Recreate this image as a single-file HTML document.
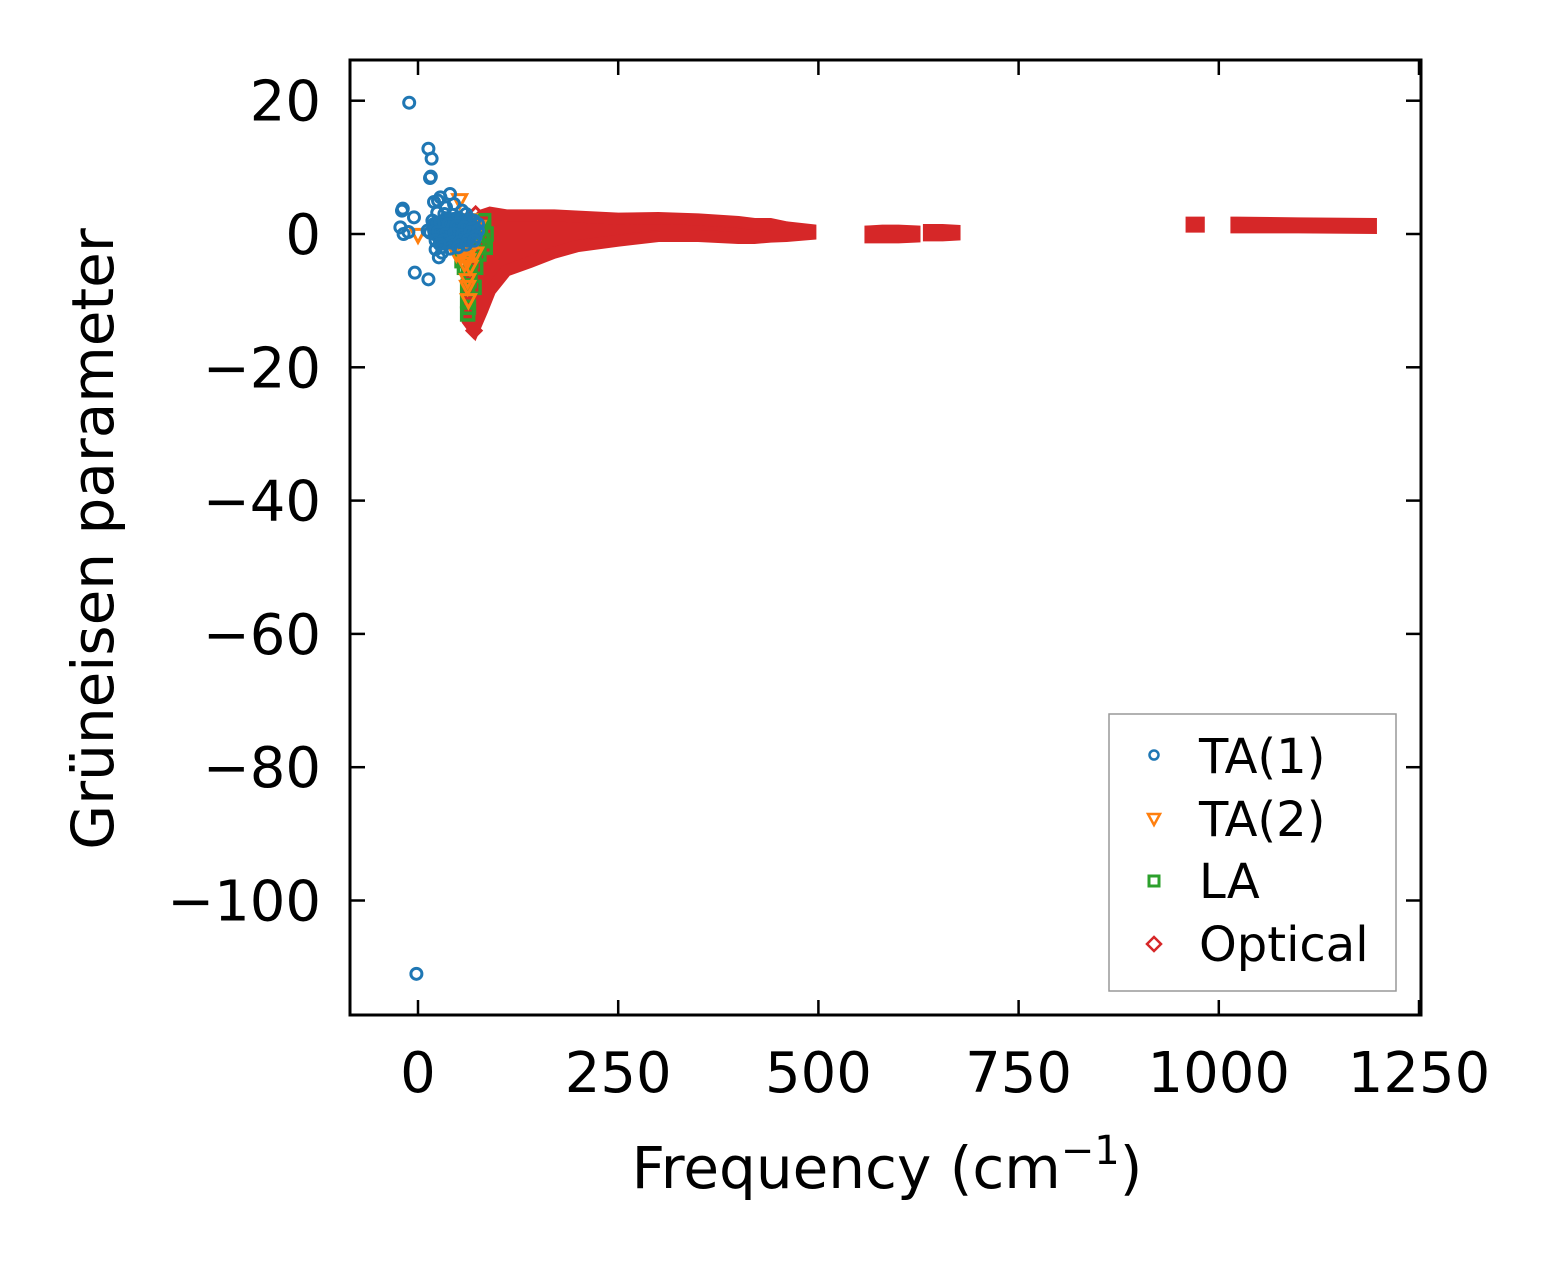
<!DOCTYPE html>
<html><head><meta charset="utf-8"><style>
html,body{margin:0;padding:0;background:#fff;}
svg{display:block;font-family:"DejaVu Sans","Liberation Sans",sans-serif;}
</style></head><body>
<svg id="chart" width="1552" height="1264" viewBox="0 0 1552 1264"></svg>
<script>
// ---- data ----
const xTicks = [0,250,500,750,1000,1250];
const yTicks = [20,0,-20,-40,-60,-80,-100];
// TA(1) points
const ta1Freq = [-11,-2,13,17,15,16,-20,-19,-5,-22,-18,-12,-4,13,40,25,20,28,26,22,30,12,18,35,45,55,60,70,24,33,50,65,75,20,28,38,48,58,68,15,25,35,45,55,65,75,22,32,42,52,62,72,30,40,50,60,70,27];
const ta1Gam  = [19.7,-111,12.8,11.3,8.4,8.6,3.5,3.8,2.5,1,0,0.3,-5.8,-6.8,6,5,4.8,5.5,-3.5,-2.3,-2.8,0.5,2,4,4.5,3.5,3,2,3.2,3,2.5,2.2,1.5,1.5,1.8,1.5,1.2,1,0.8,0.2,0.3,0,0,-0.2,0.2,0.5,-1,-1,-1.3,-1.2,-1,-0.4,-2,-2.2,-2,-1.6,-1,-1.5];
// TA(2) points
const ta2Freq = [52,0,62,63,62,45,50,55,60,65,70,48,55,62,68,75,50,58,65,72,57,64,60];
const ta2Gam  = [5,-0.2,-8,-10,-7,0,1,-1,-2,-1,0.5,-3,-3,-4,-2,1,-2,-4.5,-5,-3,-2,2,-3.5];
// LA points
const laFreq = [62,62,62,63,63,55,58,66,70,75,80,85,60,68,74,78,82,65,72,76,80,57,64,70,84];
const laGam  = [-12,-10,-8,-6,-11,-4,-5,-4,-3,-2,-1,0,-2,-1,0,1,2,-6,-5,-3,-1,-3,-7,-8,-2];
// Optical envelope segments (freq, upper, lower)
const optFreq1 = [62,70,80,90,110,140,170,200,250,300,350,400,420,440,460,490];
const optUp1   = [-10,1.5,2.8,3.2,2.8,2.8,2.8,2.6,2.3,2.4,2.2,1.8,1.5,1.5,1.0,0.6];
const optLo1   = [-13,-14.3,-11.5,-8.5,-5.5,-4.2,-2.8,-1.8,-1.0,-0.3,-0.3,-0.6,-0.6,-0.4,-0.3,0];
const optFreq2 = [565,580,600,620];
const optUp2   = [0.4,0.5,0.5,0.4];
const optLo2   = [-0.5,-0.5,-0.5,-0.4];
const optFreq3 = [638,655,670];
const optUp3   = [0.6,0.6,0.5];
const optLo3   = [-0.2,-0.2,-0.1];
const optFreq4 = [966,975];
const optUp4   = [1.7,1.7];
const optLo4   = [1.1,1.1];
const optFreq5 = [1022,1100,1190];
const optUp5   = [1.7,1.6,1.5];
const optLo5   = [1.0,1.0,0.9];
const optPtFreq = [70,68,72,90,75];
const optPtGam  = [-14.5,-13,3,2,-11];

// ---- axes ----
const X0=350,X1=1421,Y0=60,Y1=1015;
const xs = f => 418 + f*0.8008;
const ys = g => 234 - g*6.665;
const NS='http://www.w3.org/2000/svg';
const svg=document.getElementById('chart');
function mk(tag,attrs,parent){const e=document.createElementNS(NS,tag);for(const k in attrs)e.setAttribute(k,attrs[k]);(parent||svg).appendChild(e);return e;}

const clip=mk('clipPath',{id:'pc'});mk('rect',{x:X0,y:Y0,width:X1-X0,height:Y1-Y0},clip);
const plot=mk('g',{'clip-path':'url(#pc)'});



const RED='#d62728',BLUE='#1f77b4',ORANGE='#ff7f0e',GREEN='#2ca02c';
function band(fr,up,lo,name){
  let pts=fr.map((f,i)=>xs(f)+','+ys(up[i]));
  for(let i=fr.length-1;i>=0;i--)pts.push(xs(fr[i])+','+ys(lo[i]));
  const p=mk('polygon',{points:pts.join(' '),fill:RED,stroke:RED,'stroke-width':12,'stroke-linejoin':'miter'},plot);
  
  
}
band(optFreq1,optUp1,optLo1,'optical-band-low');
band(optFreq2,optUp2,optLo2,'optical-band-580');
band(optFreq3,optUp3,optLo3,'optical-band-650');
band(optFreq4,optUp4,optLo4,'optical-band-970');
band(optFreq5,optUp5,optLo5,'optical-band-high');
optPtFreq.forEach((f,i)=>{const x=xs(f),y=ys(optPtGam[i]);
  const d=mk('polygon',{points:`${x},${y-7} ${x+7},${y} ${x},${y+7} ${x-7},${y}`,fill:'none',stroke:RED,'stroke-width':3},plot);
  
  
});
laFreq.forEach((f,i)=>{const x=xs(f),y=ys(laGam[i]);
  const r=mk('rect',{x:x-6,y:y-6,width:12,height:12,fill:'none',stroke:GREEN,'stroke-width':3.5},plot);
  
  
});
ta2Freq.forEach((f,i)=>{const x=xs(f),y=ys(ta2Gam[i]);
  const t=mk('polygon',{points:`${x-7},${y-6} ${x+7},${y-6} ${x},${y+7}`,fill:'none',stroke:ORANGE,'stroke-width':3},plot);
  
  
});
const blob=mk('ellipse',{cx:xs(45),cy:ys(0.6),rx:27,ry:18,fill:BLUE},plot);


ta1Freq.forEach((f,i)=>{
  const c=mk('circle',{cx:xs(f),cy:ys(ta1Gam[i]),r:5.5,fill:'none',stroke:BLUE,'stroke-width':3},plot);
  
  
});

// frame
const frame=mk('rect',{x:X0,y:Y0,width:X1-X0,height:Y1-Y0,fill:'none',stroke:'#000','stroke-width':3});


xTicks.forEach(t=>{const x=xs(t);
  mk('line',{x1:x,y1:Y1,x2:x,y2:Y1-15,stroke:'#000','stroke-width':2.5});
  mk('line',{x1:x,y1:Y0,x2:x,y2:Y0+15,stroke:'#000','stroke-width':2.5});
  const tx=mk('text',{x:x,y:1092,'font-size':56,'text-anchor':'middle',fill:'#000'});
  tx.textContent=t;
  
  
});
yTicks.forEach(t=>{const y=ys(t);
  mk('line',{x1:X0,y1:y,x2:X0+15,y2:y,stroke:'#000','stroke-width':2.5});
  mk('line',{x1:X1,y1:y,x2:X1-15,y2:y,stroke:'#000','stroke-width':2.5});
  const tx=mk('text',{x:321,y:y+20,'font-size':56,'text-anchor':'end',fill:'#000'});
  tx.textContent=t<0?'\u2212'+Math.abs(t):t;
  
  
});
</script>
<svg style="position:absolute;left:0;top:0" width="1552" height="1264">
<text x="887" y="1188" font-size="58" text-anchor="middle" font-family="DejaVu Sans, Liberation Sans, sans-serif">Frequency (cm<tspan dy="-24" font-size="40">−1</tspan><tspan dy="24">)</tspan></text>
<text transform="translate(113,539) rotate(-90)" font-size="58" text-anchor="middle" font-family="DejaVu Sans, Liberation Sans, sans-serif">Grüneisen parameter</text>
<g font-family="DejaVu Sans, Liberation Sans, sans-serif" font-size="48">
<rect x="1109" y="714" width="287" height="277" fill="#fff" stroke="#999" stroke-width="1.5"/>
<circle cx="1154" cy="755" r="4.5" fill="none" stroke="#1f77b4" stroke-width="2.5"/>
<text x="1199" y="773">TA(1)</text>
<polygon points="1148,814 1160,814 1154,825" fill="none" stroke="#ff7f0e" stroke-width="2.5"/>
<text x="1199" y="836">TA(2)</text>
<rect x="1149" y="876" width="10" height="10" fill="none" stroke="#2ca02c" stroke-width="3"/>
<text x="1199" y="898">LA</text>
<polygon points="1154,937 1161,944 1154,951 1147,944" fill="none" stroke="#d62728" stroke-width="2.5"/>
<text x="1199" y="961">Optical</text>
</g>
</svg>
</body></html>
